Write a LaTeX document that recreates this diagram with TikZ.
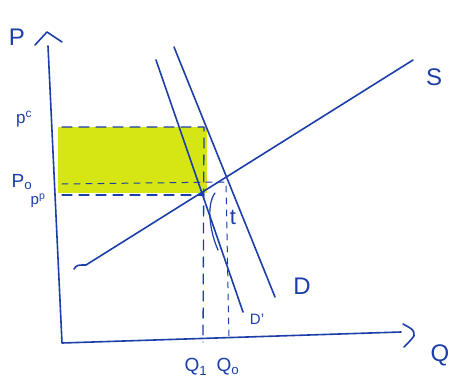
\documentclass[tikz,border=0pt]{standalone}
\usepackage{fontspec}
\setmainfont{Liberation Sans}
\definecolor{pen}{RGB}{28,62,168}
\definecolor{hl}{RGB}{214,230,20}
\begin{document}
\begin{tikzpicture}[x=1pt,y=-1pt,
  ink/.style={draw=pen,line width=1.6pt,line cap=round,line join=round},
  guide/.style={ink,line width=1.3pt,dash pattern=on 10pt off 7pt},
  lbl/.style={text=pen,font=\fontsize{24}{24}\selectfont,inner sep=0pt},
  mid/.style={lbl,font=\fontsize{19}{19}\selectfont},
  sml/.style={lbl,font=\fontsize{15}{15}\selectfont}]
\useasboundingbox (0,0) rectangle (457,382);
% highlighted area
\fill[hl] (58,127) rectangle (207,193);
% coordinates
\coordinate (o) at (62,343);
\coordinate (ytop) at (48,46);
\coordinate (xend) at (401,332);
\coordinate (s0) at (74,269);
\coordinate (s1) at (413,60);
\coordinate (d0) at (174,47);
\coordinate (d1) at (275,297);
\coordinate (e0) at (156,60);
\coordinate (e1) at (243,312);
\coordinate (pc) at (62,127);
\coordinate (pcr) at (204,127);
\coordinate (pp) at (62,195);
\coordinate (ppr) at (204,195);
\coordinate (p0) at (62,184);
\coordinate (p0r) at (226,182);
\coordinate (q1) at (203,342);
\coordinate (q0) at (229,340);
% axes
\draw[ink] (ytop) -- (o) -- (xend);
\draw[ink] (35,45) -- (47,32) -- (62,42);
\draw[ink] (403,324) .. controls (414,330) .. (414,336) .. controls (410,341) .. (404,347);
% dashed guides
\draw[guide] (pc) -- (pcr) -- (q1);
\draw[guide] (pp) -- (ppr);
\draw[guide,line width=1pt,dash pattern=on 6pt off 6pt] (p0) -- (p0r) -- (q0);
% curves
\draw[ink] (s0) .. controls (77,265) .. (86,265) -- (s1);
\draw[ink] (d0) -- (d1);
\draw[ink] (e0) -- (e1);
% tax brace
\draw[ink,line width=1.2pt] (215,193) .. controls (206,205) and (210,232) .. (218,250);
% labels
\node[lbl] (lP) at (17,37) {P};
\node[lbl] (lQ) at (440,355) {Q};
\node[lbl] (lS) at (434,77) {S};
\node[lbl] (lD) at (302,286) {D};
\node[sml] (lDp) at (257,319) {D'};
\node[lbl,font=\fontsize{22}{22}\selectfont] (lt) at (233,217) {t};
\node[sml,font=\fontsize{17}{17}\selectfont] (lpc) at (24,119) {p$^\mathrm{c}$};
\node[mid] (lp0) at (22,182) {P$_\mathrm{o}$};
\node[sml] (lpp) at (38,201) {p$^\mathrm{p}$};
\node[mid] (lq1) at (196,367) {Q$_\mathrm{1}$};
\node[mid] (lq0) at (228,367) {Q$_\mathrm{o}$};
\end{tikzpicture}
\end{document}
